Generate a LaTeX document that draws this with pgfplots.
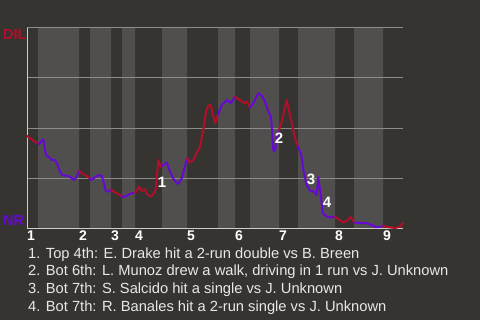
\documentclass[border=0pt]{standalone}
\usepackage{pgfplots}
\pgfplotsset{compat=1.18}
\usepackage{pgfplotstable}
\usepackage{fontspec}
\setmainfont{Liberation Sans}

\definecolor{pagebg}{RGB}{54,52,48}
\definecolor{bandlight}{RGB}{80,79,77}
\definecolor{gridgray}{RGB}{140,140,138}
\definecolor{axisgray}{RGB}{205,205,205}
\definecolor{dilred}{RGB}{178,14,42}
\definecolor{nrpurple}{RGB}{104,8,212}
\definecolor{txt}{RGB}{232,232,232}

% Win probability (DIL = 100) against play sequence
\pgfplotstableread{
x y
0 46
6.3 43.7
9.7 42.7
11 42.3
12 42
14 43.2
16.3 44.4
18 39
19 36.5
22 35.4
24.7 34
28 34
30.3 31.9
33 28.2
35.3 26.4
41.3 26
44.7 24.9
47.3 24
49.7 25.7
52 28.7
54.7 27.4
58 26.5
61.3 25.4
63 24.8
64 24
68 25.4
72 26.5
74.7 26
77 22.4
78.7 18.5
81.3 18.2
84 19.4
86.3 18.2
91.3 17
95 15.9
96.3 15.4
103 17
106 17.4
108 17.5
112 20.7
114.7 18.5
118 19.4
120.3 17
123.7 15.7
126.3 17
128.7 19
131.3 34
133.7 30.7
135 31
139.7 32.7
143 28.2
147 24
151.3 22
154.7 24.9
158 30.7
160 34.9
163 32.7
166.3 34
169.7 37.4
173 40.7
176.3 49
179 58.2
181.3 61.2
183.7 61.5
188 52.4
190.3 55.7
191 56.5
194.7 61.5
200.3 64
204 62.4
207.3 65.2
208 65.5
213 64
217.3 62.4
220 63.2
223 60.2
226.3 62.4
231.3 67.4
234.7 66.2
238 63.2
241.3 58.2
244 55.7
246.3 39
248 38.2
249.7 44.9
252 49
254.7 53.2
259.7 64
263 56.5
268 44.9
271 41
274.7 35.7
276.3 29
279.7 21.5
283 18.7
287 18.2
289.7 16.5
291.3 25.4
293 19
294.7 12.4
295.7 7.4
299.7 5.7
304.7 5.4
308 5.7
311.3 4.4
316.3 2.7
320.3 3.7
323.7 5.7
327 2.7
339.7 2.4
344.7 1.5
349 0.4
353 0.7
356 1
361.3 0.4
368 0
373 0.7
376 2.5
}\wpdata

% one stretch of the line per half-inning
\newcommand{\half}[3]{%
  \addplot[#1, line width=2pt, line join=round, line cap=round,
           restrict x to domain=#2:#3] table[x=x,y=y] {\wpdata};}

\begin{document}
\begin{tikzpicture}
\path (0pt,0pt) rectangle (480pt,320pt);

\begin{axis}[
  at={(27pt,92pt)}, anchor=south west,
  scale only axis, width=376pt, height=200pt,
  xmin=0, xmax=376, ymin=0, ymax=100,
  set layers=standard,
  axis x line*=bottom, axis y line*=left,
  axis line style={axisgray, line width=1pt, -},
  xtick={0,52,84,108,160,208,252,308,356},
  xticklabels={1,2,3,4,5,6,7,8,9},
  xticklabel style={anchor=north west, inner sep=0pt, yshift=-3pt,
    font=\fontsize{14}{14}\selectfont\bfseries, text=white},
  ytick={25,50,75,100}, yticklabels={},
  major tick length=0pt,
  ymajorgrids, grid style={gridgray, line width=1pt},
  clip=false,
]
% dark page behind everything
\begin{pgfonlayer}{axis background}
\fill[pagebg] (rel axis cs:-0.071809,-0.46) rectangle (rel axis cs:1.204787,1.14);
\end{pgfonlayer}
% shaded bottom halves of each inning
\addplot[ybar interval, fill=bandlight, draw=none, on layer=axis background]
  coordinates {(0,0)(11,100)(52,0)(63,100)(84,0)(95,100)(108,0)(135,100)
  (160,0)(191,100)(208,0)(223,100)(252,0)(271,100)(308,0)(327,100)(356,0)(376,0)};

\half{dilred}{0}{11}
\half{nrpurple}{11}{52}
\half{dilred}{52}{63}
\half{nrpurple}{63}{84}
\half{dilred}{84}{95}
\half{nrpurple}{95}{108}
\half{dilred}{108}{135}
\half{nrpurple}{135}{160}
\half{dilred}{160}{191}
\half{nrpurple}{191}{208}
\half{dilred}{208}{223}
\half{nrpurple}{223}{252}
\half{dilred}{252}{271}
\half{nrpurple}{271}{308}
\half{dilred}{308}{327}
\half{nrpurple}{327}{356}
\half{dilred}{356}{376}

\begin{scope}[every node/.style={text=white, font=\fontsize{15}{15}\selectfont\bfseries, inner sep=0pt}]
\node at (axis cs:135,23) {1};
\node at (axis cs:252,45) {2};
\node at (axis cs:284,24.5) {3};
\node at (axis cs:300,13) {4};
\end{scope}
\end{axis}

\node[anchor=base west, inner sep=0pt, text=dilred, font=\fontsize{14.5}{14.5}\selectfont\bfseries] at (3pt,280.7pt) {DIL};
\node[anchor=base west, inner sep=0pt, text=nrpurple, font=\fontsize{14.5}{14.5}\selectfont\bfseries] at (3pt,95pt) {NR};

\begin{scope}[every node/.style={anchor=base west, inner sep=0pt, text=txt, font=\fontsize{14.7}{14.7}\selectfont}]
\node at (28pt,61.7pt) {1. Top 4th: E. Drake hit a 2-run double vs B. Breen};
\node at (28pt,45pt) {2. Bot 6th: L. Munoz drew a walk, driving in 1 run vs J. Unknown};
\node at (28pt,26.7pt) {3. Bot 7th: S. Salcido hit a single vs J. Unknown};
\node at (28pt,8.3pt) {4. Bot 7th: R. Banales hit a 2-run single vs J. Unknown};
\end{scope}
\end{tikzpicture}
\end{document}
